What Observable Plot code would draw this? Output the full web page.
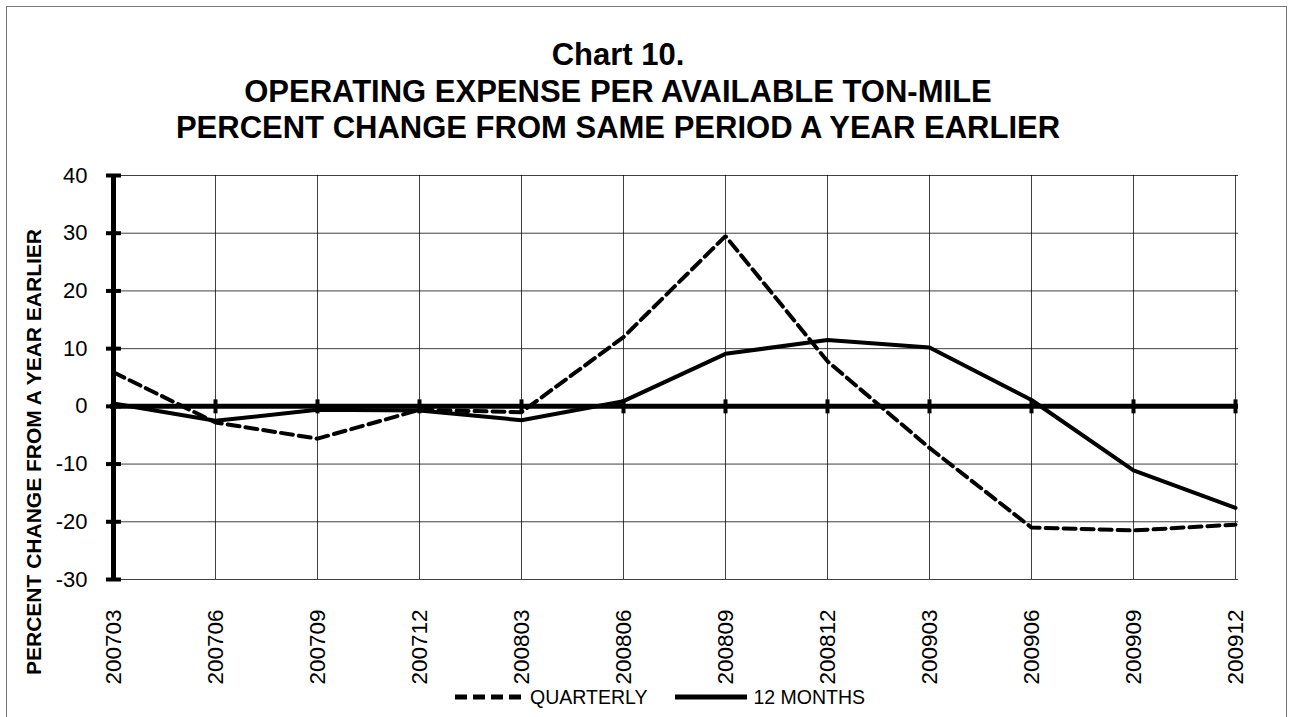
<!DOCTYPE html>
<html>
<head>
<meta charset="utf-8">
<script src="https://cdn.jsdelivr.net/npm/d3@7"></script>
<script src="https://cdn.jsdelivr.net/npm/@observablehq/plot@0.6"></script>
<style>
  html, body { margin: 0; padding: 0; background: #fff; overflow: hidden; }
  #wrap { position: relative; width: 1294px; height: 717px; overflow: hidden; background: #fff;
          font-family: Arial, "Liberation Sans", sans-serif; color: #000; }
  #frame { position: absolute; left: 6px; top: 6px; width: 1279px; height: 800px; border: 1px solid #777; }
  #title { position: absolute; left: 0; top: 37px; width: 1236px; text-align: center;
           font-weight: bold; font-size: 31px; line-height: 36.5px; }
  #ylabel { position: absolute; left: 34px; top: 452px; transform: translate(-50%, -50%) rotate(-90deg);
            white-space: nowrap; font-weight: bold; font-size: 21px; }
  #chart { position: absolute; left: 0; top: 150px; }
  #legend { position: absolute; left: 455px; top: 686px; height: 22px; display: flex; align-items: center;
            font-size: 19.5px; white-space: nowrap; }
  #legend svg { display: block; }
</style>
</head>
<body>
<div id="wrap">
  <div id="frame"></div>
  <div id="title">Chart 10.<br>OPERATING EXPENSE PER AVAILABLE TON-MILE<br>PERCENT CHANGE FROM SAME PERIOD A YEAR EARLIER</div>
  <div id="ylabel">PERCENT CHANGE FROM A YEAR EARLIER</div>
  <div id="chart"></div>
  <div id="legend"></div>
</div>
<script>
const periods = ["200703","200706","200709","200712","200803","200806","200809","200812","200903","200906","200909","200912"];
const quarterly = [5.9, -2.8, -5.6, -0.6, -1.0, 12.0, 29.5, 7.8, -7.2, -21.0, -21.5, -20.5];
const twelveMonths = [0.5, -2.5, -0.6, -0.7, -2.4, 0.9, 9.1, 11.5, 10.2, 1.1, -11.1, -17.6];
const yTicks = [-30, -20, -10, 0, 10, 20, 30, 40];
const seriesNames = ["QUARTERLY", "12 MONTHS"];

const qData = periods.map((p, i) => ({period: p, value: quarterly[i]}));
const mData = periods.map((p, i) => ({period: p, value: twelveMonths[i]}));

const vTick = {draw(ctx) { ctx.moveTo(0, -7); ctx.lineTo(0, 7); }};
const hTick = {draw(ctx) { ctx.moveTo(-7.5, 0); ctx.lineTo(7.5, 0); }};

const chart = Plot.plot({
  width: 1294,
  height: 540,
  marginLeft: 110,
  marginRight: 56,
  marginTop: 25,
  marginBottom: 111,
  style: {fontFamily: 'Arial, "Liberation Sans", sans-serif', fontSize: "22px", background: "transparent", color: "#000"},
  x: {type: "point", domain: periods, padding: 0},
  y: {domain: [-30, 40]},
  marks: [
    Plot.gridY(yTicks, {stroke: "#000", strokeOpacity: 0.75, strokeWidth: 1}),
    Plot.gridX(periods, {stroke: "#000", strokeOpacity: 0.75, strokeWidth: 1}),
    Plot.axisY(yTicks, {tickSize: 0, tickPadding: 23, fontSize: 22, label: null, tickFormat: d => String(d)}),
    Plot.axisX(periods, {tickSize: 0, tickPadding: 30, tickRotate: -90, fontSize: 22.5, label: null}),
    Plot.ruleY([0], {stroke: "#000", strokeWidth: 5}),
    Plot.ruleX([periods[0]], {stroke: "#000", strokeWidth: 5}),
    Plot.dot(periods, {x: d => d, y: 0, symbol: vTick, stroke: "#000", strokeWidth: 4, fill: "none"}),
    Plot.dot(yTicks, {x: () => periods[0], y: d => d, symbol: hTick, stroke: "#000", strokeWidth: 4, fill: "none"}),
    Plot.line(mData, {x: "period", y: "value", stroke: "#000", strokeWidth: 4, strokeLinejoin: "miter"}),
    Plot.line(qData, {x: "period", y: "value", stroke: "#000", strokeWidth: 4, strokeDasharray: "12,6", strokeLinejoin: "miter"})
  ]
});
document.getElementById("chart").appendChild(chart);

// legend
const legend = document.getElementById("legend");
const items = [
  {name: seriesNames[0], dash: "12,6", w: 69},
  {name: seriesNames[1], dash: null, w: 72}
];
items.forEach((it, i) => {
  const svg = d3.create("svg").attr("width", it.w).attr("height", 10);
  svg.append("line").attr("x1", 0).attr("x2", it.w).attr("y1", 5).attr("y2", 5)
     .attr("stroke", "#000").attr("stroke-width", 5)
     .attr("stroke-dasharray", it.dash);
  const wrap = document.createElement("span");
  wrap.style.display = "flex";
  wrap.style.alignItems = "center";
  wrap.style.marginRight = i === 0 ? "28px" : "0";
  wrap.appendChild(svg.node());
  const label = document.createElement("span");
  label.textContent = it.name;
  label.style.marginLeft = "6px";
  wrap.appendChild(label);
  legend.appendChild(wrap);
});
</script>
</body>
</html>
